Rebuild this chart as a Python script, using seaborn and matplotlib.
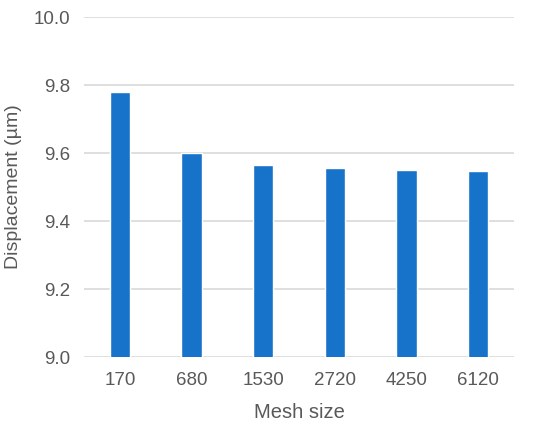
import numpy as np
import matplotlib
matplotlib.use("Agg")
import matplotlib.pyplot as plt
import pandas as pd
import seaborn as sns

mesh_size = ["170", "680", "1530", "2720", "4250", "6120"]
displacement = [9.779, 9.600, 9.566, 9.556, 9.550, 9.546]

sns.set_style("white")
plt.rcParams["font.family"] = ["Liberation Sans", "DejaVu Sans"]

df = pd.DataFrame({"mesh": mesh_size, "disp": displacement})

fig = plt.figure(figsize=(5.5, 4.26), dpi=100)
ax = fig.add_axes([84 / 550, 1 - 357 / 426, 430 / 550, 340 / 426])

sns.barplot(data=df, x="mesh", y="disp", color="#1773CA", width=0.28,
            saturation=1, ax=ax, zorder=3)

ax.set_ylim(9.0, 10.0)
ax.set_xlim(-0.5, 5.5)
ax.set_yticks(np.arange(9.0, 10.01, 0.2))
ax.set_yticklabels([f"{v:.1f}" for v in np.arange(9.0, 10.01, 0.2)])
ax.grid(axis="y", color="#D9D9D9", linewidth=1.2, zorder=0)
for s in ax.spines.values():
    s.set_visible(False)
ax.tick_params(axis="both", length=0, labelsize=13.5, colors="#595959")
ax.tick_params(axis="x", pad=11)
ax.tick_params(axis="y", pad=10)
ax.set_xlabel("Mesh size", fontsize=14.5, color="#595959", labelpad=10)
ax.set_ylabel("Displacement (µm)", fontsize=14, color="#595959", labelpad=8)

fig.savefig("out.png", dpi=100)
